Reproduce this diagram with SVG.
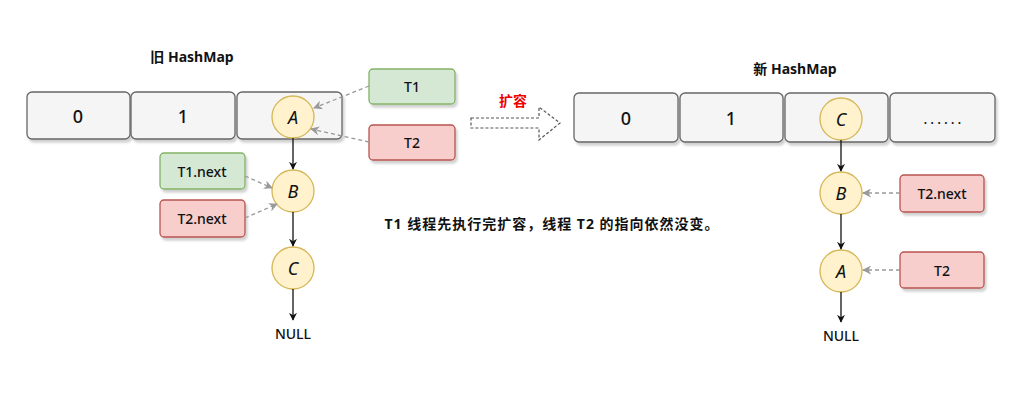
<svg xmlns="http://www.w3.org/2000/svg" width="1024" height="400" viewBox="0 0 1024 400">
<style>
text{font-family:"Noto Sans","Noto Sans CJK SC",sans-serif;fill:#111;text-anchor:middle;dominant-baseline:central}
.cell{fill:#f5f5f5;stroke:#666;stroke-width:1.3}
.g{fill:#d5e8d4;stroke:#82b366;stroke-width:1.3}
.r{fill:#f8cecc;stroke:#b85450;stroke-width:1.3}
.n{fill:#fff2cc;stroke:#d6b656;stroke-width:1.3}
.big{font-size:18px;font-weight:500}
.lbl{font-size:14px;font-weight:500}
.node{font-size:18px;font-style:italic}
.t{font-size:14px;font-weight:bold}
.solid{stroke:#111;stroke-width:1.3;fill:none;marker-end:url(#ah)}
.dash{stroke:#999;stroke-width:1.3;fill:none;stroke-dasharray:4 3;marker-end:url(#ag)}
</style>
<defs>
<filter id="sh" x="-10%" y="-10%" width="130%" height="140%"><feDropShadow dx="2" dy="3" stdDeviation="1.2" flood-color="#000" flood-opacity="0.18"/></filter>
<marker id="ah" viewBox="0 0 10 10" refX="9" refY="5" markerWidth="8" markerHeight="8" orient="auto" markerUnits="userSpaceOnUse"><path d="M0,0 L10,5 L0,10 L3,5 Z" fill="#111"/></marker>
<marker id="ag" viewBox="0 0 10 10" refX="9" refY="5" markerWidth="9" markerHeight="9" orient="auto" markerUnits="userSpaceOnUse"><path d="M0,0 L10,5 L0,10 L3,5 Z" fill="#999"/></marker>
</defs>

<g id="old-title"><text x="192" y="56" class="t">旧 HashMap</text></g>
<g id="old-cell0"><rect class="cell" x="27" y="92" width="103" height="47" rx="5" filter="url(#sh)"/><text x="78" y="116" class="big">0</text></g>
<g id="old-cell1"><rect class="cell" x="131" y="92" width="104" height="47" rx="5" filter="url(#sh)"/><text x="183" y="116" class="big">1</text></g>
<g id="old-cell2"><rect class="cell" x="237" y="92" width="105" height="47" rx="5" filter="url(#sh)"/></g>
<g id="old-A"><circle class="n" cx="293" cy="117" r="21"/><text x="293" y="117" class="node">A</text></g>
<g id="old-B"><circle class="n" cx="293" cy="191" r="21"/><text x="293" y="191" class="node">B</text></g>
<g id="old-C"><circle class="n" cx="293" cy="268" r="21"/><text x="293" y="268" class="node">C</text></g>
<g id="old-null"><text x="293" y="333" class="lbl">NULL</text></g>
<g id="old-T1"><rect class="g" x="369" y="69" width="86" height="35" rx="4" filter="url(#sh)"/><text x="412" y="86" class="lbl">T1</text></g>
<g id="old-T2"><rect class="r" x="369" y="125" width="86" height="35" rx="4" filter="url(#sh)"/><text x="412" y="142" class="lbl">T2</text></g>
<g id="old-T1next"><rect class="g" x="160" y="153" width="85" height="36" rx="4" filter="url(#sh)"/><text x="202" y="171" class="lbl">T1.next</text></g>
<g id="old-T2next"><rect class="r" x="160" y="200" width="85" height="37" rx="4" filter="url(#sh)"/><text x="202" y="218" class="lbl">T2.next</text></g>

<g id="expand">
<text x="513" y="100" style="fill:#e00;font-size:14px;font-weight:bold">扩容</text>
<path d="M471,118 L539,118 L539,107 L560,123 L539,140 L539,128 L471,128 Z" fill="none" stroke="#555" stroke-width="1.2" stroke-dasharray="3 2"/>
</g>

<g id="new-title"><text x="795" y="68" class="t">新 HashMap</text></g>
<g id="new-cell0"><rect class="cell" x="574" y="93" width="104" height="49" rx="5" filter="url(#sh)"/><text x="626" y="118" class="big">0</text></g>
<g id="new-cell1"><rect class="cell" x="680" y="93" width="103" height="49" rx="5" filter="url(#sh)"/><text x="731" y="118" class="big">1</text></g>
<g id="new-cell2"><rect class="cell" x="785" y="93" width="103" height="49" rx="5" filter="url(#sh)"/></g>
<g id="new-cell3"><rect class="cell" x="890" y="93" width="105" height="49" rx="5" filter="url(#sh)"/><text x="944" y="118" class="lbl" style="letter-spacing:3px">......</text></g>
<g id="new-C"><circle class="n" cx="841" cy="119" r="21"/><text x="841" y="119" class="node">C</text></g>
<g id="new-B"><circle class="n" cx="841" cy="193" r="21"/><text x="841" y="193" class="node">B</text></g>
<g id="new-A"><circle class="n" cx="841" cy="271" r="21"/><text x="841" y="271" class="node">A</text></g>
<g id="new-null"><text x="841" y="335" class="lbl">NULL</text></g>
<g id="new-T2next"><rect class="r" x="900" y="175" width="84" height="37" rx="4" filter="url(#sh)"/><text x="942" y="193" class="lbl">T2.next</text></g>
<g id="new-T2"><rect class="r" x="900" y="252" width="84" height="36" rx="4" filter="url(#sh)"/><text x="942" y="270" class="lbl">T2</text></g>

<g id="caption"><text x="552" y="223" class="t" style="letter-spacing:1px">T1 线程先执行完扩容，线程 T2 的指向依然没变。</text></g>

<g id="connectors">
<path class="solid" d="M293,138 L293,169"/>
<path class="solid" d="M293,212 L293,246"/>
<path class="solid" d="M293,289 L293,320"/>
<path class="dash" d="M369,86 L314,108"/>
<path class="dash" d="M369,142 L311,129"/>
<path class="dash" d="M245,176 L272,188"/>
<path class="dash" d="M245,218 L277,204"/>
<path class="solid" d="M841,140 L841,171"/>
<path class="solid" d="M841,214 L841,249"/>
<path class="solid" d="M841,292 L841,322"/>
<path class="dash" d="M900,193 L863,193"/>
<path class="dash" d="M900,270 L863,270"/>
</g>
</svg>
